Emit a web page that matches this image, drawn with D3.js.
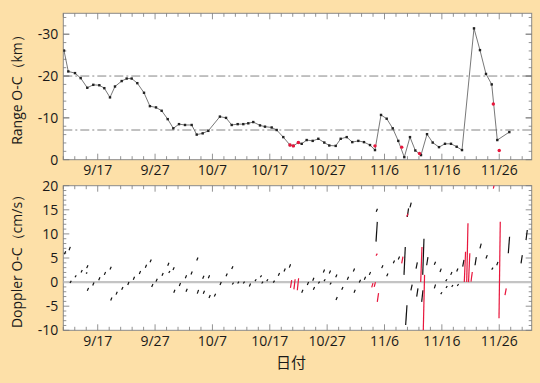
<!DOCTYPE html>
<html><head><meta charset="utf-8">
<script src="https://cdn.jsdelivr.net/npm/d3@7"></script>
<style>
html,body{margin:0;padding:0;background:#fde0a8;}
svg{display:block;}
text{font-family:"Open Sans","Noto Sans",sans-serif;fill:#1a1a1a;}
</style></head><body>
<svg id="c" width="540" height="383"></svg>
<script>
// ---- data (day 0 = 9/11) ----
const tickLabels = ["9/17","9/27","10/7","10/17","10/27","11/6","11/16","11/26"];
const tickDays   = [6,16,26,36,46,56,66,76];

const rangeDay = [0.12,0.87,2.04,3.03,4.18,5.23,6.28,7.15,8.14,9.01,10.18,11.05,11.92,12.9,14.07,15.1,16.16,17.15,18.2,19.18,20.17,21.22,22.38,23.26,24.3,25.28,27.3,28.37,29.36,30.4,31.38,32.25,33.12,34.29,35.16,36.33,37.2,38.35,39.52,40.1,40.97,41.56,42.43,43.48,44.46,45.5,46.37,47.49,48.36,49.41,50.38,51.43,52.42,53.47,54.34,55.39,56.38,57.43,58.4,59.45,60.44,61.37,62.36,63.41,64.4,65.5,66.54,67.59,68.58,69.51,71.6,72.64,73.69,74.69,75.66,77.76];
const rangeOC  = [-26.1,-21.1,-20.7,-19.5,-17.2,-17.9,-17.8,-17.1,-14.9,-17.5,-18.8,-19.4,-19.4,-18.3,-16.0,-12.8,-12.5,-11.7,-9.7,-7.5,-8.5,-8.3,-8.3,-6.0,-6.3,-6.9,-10.3,-10.0,-8.3,-8.5,-8.5,-8.7,-9.0,-8.2,-7.9,-7.7,-7.1,-5.4,-3.5,-3.3,-4.1,-3.8,-4.7,-4.5,-5.0,-4.1,-3.4,-3.3,-5.0,-5.4,-4.2,-4.5,-4.2,-3.5,-2.3,-10.7,-9.8,-7.5,-4.5,-0.6,-5.4,-2.2,-1.1,-6.1,-4.1,-3.0,-3.8,-3.8,-3.1,-2.3,-31.4,-26.2,-20.5,-18.0,-4.7,-6.6];
const redDay = [39.52,40.1,40.97,54.34,59.0,62.1,74.97,76.0];
const redOC  = [-3.5,-3.3,-4.1,-3.3,-3.0,-1.5,-13.3,-2.2];
const refLevels = [-20,-7.1];

// Doppler passes: day, start value, end value, colour (k black / r red)
const dopDay   = [0.2,1.0,1.17,2.04,3.09,4.08,3.96,4.18,5.13,6.17,7.15,8.14,8.26,9.19,10.18,11.23,12.2,13.25,14.3,15.12,15.41,16.16,17.2,18.2,18.38,19.12,19.25,20.22,21.27,21.39,22.26,23.26,23.36,24.3,24.4,25.28,25.4,26.33,27.32,28.37,29.36,29.46,30.4,31.38,32.43,33.42,34.35,34.59,35.46,36.61,37.48,38.48,39.4,39.6,40.2,40.8,41.56,42.54,43.48,43.59,44.46,45.33,45.45,46.37,46.49,47.49,47.54,48.54,49.51,50.56,50.68,51.6,52.48,53.35,53.77,54.2,54.52,54.55,54.52,54.74,55.51,56.38,57.53,58.4,58.99,59.4,59.69,59.97,59.87,60.44,60.6,61.5,61.61,62.31,62.48,62.66,62.76,63.35,64.68,64.68,65.67,65.8,66.67,66.72,67.54,67.71,68.58,68.69,69.63,69.91,70.33,70.65,71.08,71.78,72.64,73.69,74.69,75.56,75.96,74.97,77.0,77.58,79.8,80.67];
const dopStart = [5.8,6.6,-0.2,1.0,2.0,2.9,1.8,-1.8,-0.7,0.4,1.5,2.6,-3.8,-2.6,-1.6,-0.6,0.5,1.7,3.0,4.1,-1.0,0.1,1.3,3.4,1.9,2.5,-2.2,-0.8,0.8,-2.0,1.6,4.5,-2.4,0.7,-2.4,0.8,-3.3,-3.0,-0.6,1.2,2.7,-0.5,-0.3,-0.3,-0.9,0.2,1.0,-0.3,0.2,-0.1,1.3,2.2,3.0,-1.2,-1.5,-1.7,-2.2,-0.6,0.3,-1.6,-0.3,2.0,0.2,1.8,-0.5,1.0,-3.7,-1.6,0.5,2.2,-2.2,-0.1,0.5,1.5,-1.1,-1.0,8.4,14.6,5.5,-4.1,2.9,1.2,3.9,4.7,3.9,1.5,-8.9,13.5,13.6,15.5,-1.7,2.8,-3.0,0.0,-4.1,1.5,-10.0,3.5,3.6,-1.3,2.1,-2.5,0.2,-1.2,1.5,-1.0,2.2,-0.8,3.2,0.0,0.0,0.0,0.1,3.5,7.0,4.9,2.6,3.5,-7.5,19.4,-2.7,6.0,3.9,8.7];
const dopEnd   = [6.4,7.3,0.3,1.4,2.5,3.5,2.0,-1.2,-0.1,1.0,2.1,3.2,-3.2,-2.0,-1.0,0.0,1.1,2.3,3.6,4.7,-0.4,0.7,1.9,4.0,2.3,3.1,-1.6,-0.2,1.4,-1.4,2.2,5.1,-1.6,1.3,-1.8,1.4,-2.7,-2.4,0.0,1.8,3.3,-0.1,0.1,0.1,-0.3,0.6,1.4,0.1,0.6,0.3,1.9,2.8,3.7,0.4,0.6,0.8,-1.6,0.0,0.9,-1.0,0.1,2.6,0.6,2.4,-0.1,1.6,-3.1,-1.0,1.1,2.8,-1.6,0.5,1.1,2.1,-0.2,0.0,12.5,15.2,5.9,-2.3,3.5,1.8,4.5,5.3,5.3,7.3,-4.8,15.3,14.2,16.5,-0.5,4.1,-1.3,7.3,-1.7,9.0,1.5,5.2,4.2,-0.5,2.8,-2.1,0.6,-0.8,2.1,-0.6,2.8,-0.4,4.6,6.3,12.2,6.0,2.1,5.2,8.0,5.6,3.0,4.2,12.5,20.5,-1.3,9.4,5.6,10.8];
const dopColor = ["k","k","k","k","k","k","k","k","k","k","k","k","k","k","k","k","k","k","k","k","k","k","k","k","k","k","k","k","k","k","k","k","k","k","k","k","k","k","k","k","k","k","k","k","k","k","k","k","k","k","k","k","k","r","r","r","k","k","k","k","k","k","k","k","k","k","k","k","k","k","k","k","k","k","r","r","k","k","r","r","k","k","k","k","r","k","k","k","r","k","k","k","k","r","k","k","r","k","k","k","k","k","k","k","k","k","k","k","k","r","r","r","r","k","k","k","k","k","r","r","r","k","k","k"];

// ---- layout ----
const svg = d3.select("#c");
const left = 63.3, right = 531.7;
const x = d3.scaleLinear().domain([0, 81.66]).range([left, right]);
const top1 = 13.3, bot1 = 159.7;
const top2 = 185.7, bot2 = 330.3;
const y1 = d3.scaleLinear().domain([0, -35]).range([bot1, top1]);
const y2 = d3.scaleLinear().domain([-10, 20]).range([bot2, top2]);

function frame(y, yt, yb, majors, minors, fmt) {
  const g = svg.append("g");
  g.append("rect").attr("x", left).attr("y", yt).attr("width", right-left).attr("height", yb-yt)
    .attr("fill", "#fff").attr("stroke", "#8a8a8a").attr("stroke-width", 1);
  const xt = d3.range(0, 82, 2);
  xt.forEach(d => {
    const L = tickDays.includes(d) ? 6 : 3.5;
    g.append("line").attr("x1", x(d)).attr("x2", x(d)).attr("y1", yb).attr("y2", yb-L).attr("stroke", "#777").attr("stroke-width", 0.8);
    g.append("line").attr("x1", x(d)).attr("x2", x(d)).attr("y1", yt).attr("y2", yt+L).attr("stroke", "#777").attr("stroke-width", 0.8);
  });
  minors.forEach(v => {
    const L = majors.includes(v) ? 6 : 3;
    g.append("line").attr("x1", left).attr("x2", left+L).attr("y1", y(v)).attr("y2", y(v)).attr("stroke", "#777").attr("stroke-width", 0.8);
    g.append("line").attr("x1", right).attr("x2", right-L).attr("y1", y(v)).attr("y2", y(v)).attr("stroke", "#777").attr("stroke-width", 0.8);
  });
  majors.forEach(v => {
    g.append("text").attr("x", left-5).attr("y", y(v)).attr("dy", "0.36em").attr("text-anchor", "end")
      .attr("font-size", 14).attr("font-weight", 500).text(fmt(v));
  });
  tickDays.forEach((d, i) => {
    g.append("text").attr("x", x(d)).attr("y", yb+15.5).attr("text-anchor", "middle")
      .attr("font-size", 14).attr("font-weight", 500).text(tickLabels[i]);
  });
  return g;
}

frame(y1, top1, bot1, [0,-10,-20,-30], d3.range(0, -35.1, -2).concat([-10,-20,-30]), v => v === 0 ? "0" : String(v));
frame(y2, top2, bot2, [-10,-5,0,5,10,15,20], d3.range(-10, 20.1, 1), v => String(v));

const defs = svg.append("defs");
defs.append("clipPath").attr("id", "cp1").append("rect").attr("x", left).attr("y", top1).attr("width", right-left).attr("height", bot1-top1);
defs.append("clipPath").attr("id", "cp2").append("rect").attr("x", left).attr("y", top2).attr("width", right-left).attr("height", bot2-top2);

// ---- top chart ----
const g1 = svg.append("g").attr("clip-path", "url(#cp1)");
refLevels.forEach(v => {
  g1.append("line").attr("x1", left).attr("x2", right).attr("y1", y1(v)).attr("y2", y1(v))
    .attr("stroke", "#777").attr("stroke-width", 0.9).attr("stroke-dasharray", "9,3,2,3");
});
const pts = rangeDay.map((d, i) => [d, rangeOC[i]]);
g1.append("path").attr("d", d3.line().x(p => x(p[0])).y(p => y1(p[1]))(pts))
  .attr("fill", "none").attr("stroke", "#555").attr("stroke-width", 0.8);
g1.selectAll("rect.m").data(pts).enter().append("rect")
  .attr("x", p => x(p[0]) - 1.2).attr("y", p => y1(p[1]) - 1.2).attr("width", 2.4).attr("height", 2.4).attr("fill", "#222");
g1.selectAll("circle.r").data(redDay.map((d, i) => [d, redOC[i]])).enter().append("circle")
  .attr("cx", p => x(p[0])).attr("cy", p => y1(p[1])).attr("r", 1.7).attr("fill", "#e8163c");

// ---- bottom chart ----
const g2 = svg.append("g").attr("clip-path", "url(#cp2)");
g2.append("line").attr("x1", left).attr("x2", right).attr("y1", y2(0)).attr("y2", y2(0))
  .attr("stroke", "#c4c4c4").attr("stroke-width", 2.2);
const passW = 0.22;
dopDay.forEach((d, i) => {
  g2.append("line").attr("x1", x(d)).attr("y1", y2(dopStart[i])).attr("x2", x(d + passW)).attr("y2", y2(dopEnd[i]))
    .attr("stroke", dopColor[i] === "r" ? "#e8163c" : "#111").attr("stroke-width", 1.2);
});

// ---- axis titles ----
svg.append("text").attr("transform", `translate(22,${(top1+bot1)/2}) rotate(-90)`).attr("text-anchor", "middle")
  .attr("font-size", 14).attr("font-weight", 500).text("Range O-C（km）");
svg.append("text").attr("transform", `translate(22,${(top2+bot2)/2}) rotate(-90)`).attr("text-anchor", "middle")
  .attr("font-size", 14).attr("font-weight", 500).text("Doppler O-C（cm/s）");
svg.append("text").attr("x", 291).attr("y", 368).attr("text-anchor", "middle")
  .attr("font-size", 15).style("font-family", "'Noto Sans CJK JP',sans-serif").text("日付");
</script>
</body></html>
